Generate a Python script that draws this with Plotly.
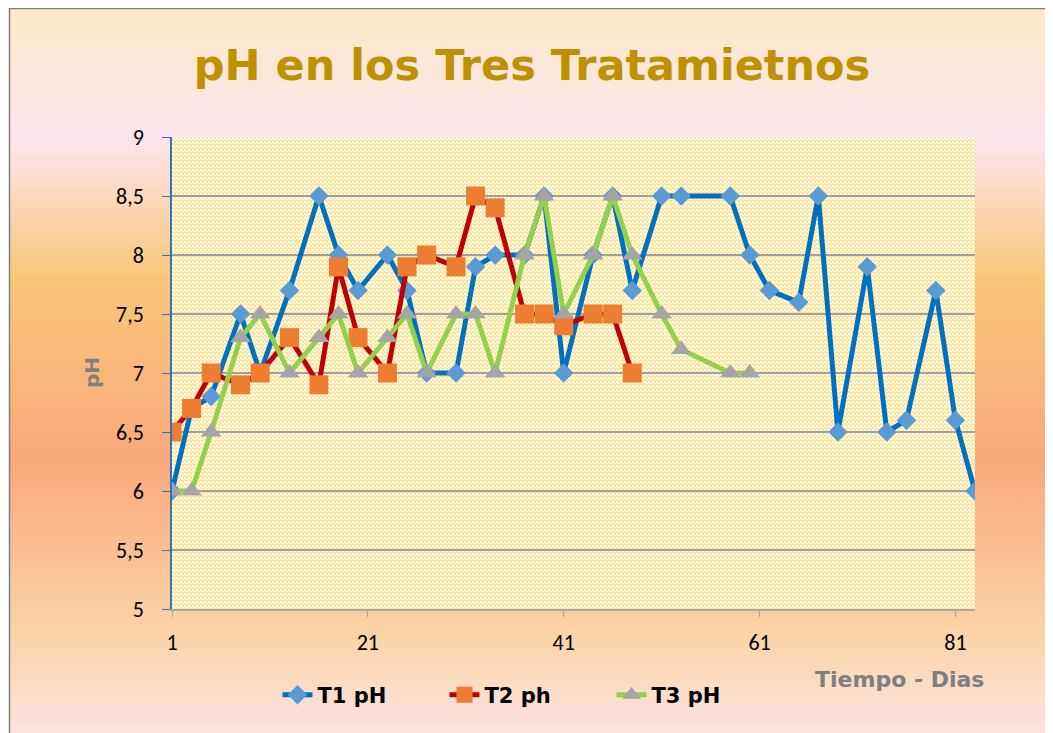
import base64
import plotly.graph_objects as go

# ---- data ----
t1_days = [1, 3, 5, 8, 10, 13, 16, 18, 20, 23, 25, 27, 30, 32, 34, 37, 39, 41, 44, 46, 48,
           51, 53, 58, 60, 62, 65, 67, 69, 72, 74, 76, 79, 81, 83]
t1_ph = [6.0, 6.7, 6.8, 7.5, 7.0, 7.7, 8.5, 8.0, 7.7, 8.0, 7.7, 7.0, 7.0, 7.9, 8.0, 8.0, 8.5, 7.0, 8.0, 8.5, 7.7,
         8.5, 8.5, 8.5, 8.0, 7.7, 7.6, 8.5, 6.5, 7.9, 6.5, 6.6, 7.7, 6.6, 6.0]

t2_days = [1, 3, 5, 8, 10, 13, 16, 18, 20, 23, 25, 27, 30, 32, 34, 37, 39, 41, 44, 46, 48]
t2_ph = [6.5, 6.7, 7.0, 6.9, 7.0, 7.3, 6.9, 7.9, 7.3, 7.0, 7.9, 8.0, 7.9, 8.5, 8.4, 7.5, 7.5, 7.4, 7.5, 7.5, 7.0]

t3_days = [1, 3, 5, 8, 10, 13, 16, 18, 20, 23, 25, 27, 30, 32, 34, 37, 39, 41, 44, 46, 48, 51, 53, 58, 60]
t3_ph = [6.0, 6.0, 6.5, 7.3, 7.5, 7.0, 7.3, 7.5, 7.0, 7.3, 7.5, 7.0, 7.5, 7.5, 7.0, 8.0, 8.5, 7.5, 8.0, 8.5, 8.0,
         7.5, 7.2, 7.0, 7.0]

series_names = ["T1 pH", "T2 ph", "T3 pH"]
x_ticks = [1, 21, 41, 61, 81]
y_ticks = [5, 5.5, 6, 6.5, 7, 7.5, 8, 8.5, 9]

title_text = "pH en los Tres Tratamietnos"
x_title = "Tiempo - Dias"
y_title = "pH"

# ---- geometry (page pixels; the page body adds an 8px offset) ----
OFF = 8
W, H = 1053, 733
L, R, T, B = 172 - OFF, 975 - OFF, 137 - OFF, 609 - OFF
PW, PH = R - L, B - T


def px_x(px):
    return (px - OFF - L) / PW


def px_y(py):
    return (B - (py - OFF)) / PH


def data_uri(svg):
    return "data:image/svg+xml;base64," + base64.b64encode(svg.encode()).decode()


bg_w, bg_h = W, H
bg_svg = (
    f"<svg xmlns='http://www.w3.org/2000/svg' width='{bg_w}' height='{bg_h}'>"
    "<defs><linearGradient id='g' x1='0' y1='0' x2='0' y2='1'>"
    "<stop offset='0' stop-color='#FBE9C8'/>"
    "<stop offset='0.18' stop-color='#FDE5EE'/>"
    "<stop offset='0.37' stop-color='#F9C679'/>"
    "<stop offset='0.62' stop-color='#F9A97D'/>"
    "<stop offset='0.86' stop-color='#FAD5A8'/>"
    "<stop offset='1' stop-color='#FDE4E6'/>"
    "</linearGradient></defs>"
    f"<rect width='{bg_w}' height='{bg_h}' fill='url(#g)'/></svg>"
)

pat_svg = (
    f"<svg xmlns='http://www.w3.org/2000/svg' width='{PW}' height='{PH}'>"
    "<defs><pattern id='p' width='4' height='4' patternUnits='userSpaceOnUse'>"
    "<rect width='4' height='4' fill='#FFE699'/>"
    "<rect width='2' height='2' fill='#FFFFFF'/>"
    "<rect x='2' y='2' width='2' height='1' fill='#FFFFFF'/>"
    "</pattern></defs>"
    f"<rect width='{PW}' height='{PH}' fill='url(#p)'/></svg>"
)

FONT_FUN = "Comic Sans MS, DejaVu Sans, sans-serif"
FONT_TICK = "Calibri, Lato, sans-serif"

fig = go.Figure()
fig.add_trace(go.Scatter(
    x=t1_days, y=t1_ph, name=series_names[0], mode="lines+markers",
    line=dict(color="#0070C0", width=5),
    marker=dict(symbol="diamond", size=15, color="#5B9BD5"),
))
fig.add_trace(go.Scatter(
    x=t2_days, y=t2_ph, name=series_names[1], mode="lines+markers",
    line=dict(color="#C00000", width=5),
    marker=dict(symbol="square", size=19, color="#ED7D31"),
))
fig.add_trace(go.Scatter(
    x=t3_days, y=t3_ph, name=series_names[2], mode="lines+markers",
    line=dict(color="#92D050", width=5),
    marker=dict(symbol="triangle-up", size=18, color="#A5A5A5"),
))

fig.update_layout(
    width=W, height=H,
    margin=dict(l=L, r=W - R, t=T, b=H - B, autoexpand=False),
    paper_bgcolor="white",
    plot_bgcolor="rgba(0,0,0,0)",
    separators=",.",
    showlegend=True,
    legend=dict(
        orientation="h", x=px_x(528), xanchor="center", y=px_y(695), yanchor="middle",
        font=dict(family=FONT_FUN, size=21, color="black", weight="bold"),
        bgcolor="rgba(0,0,0,0)", entrywidth=122, entrywidthmode="pixels",
    ),
    title=dict(
        text=title_text, x=px_x(532), xanchor="center", xref="paper",
        y=1 - (65 - OFF) / H, yanchor="middle", yref="container",
        font=dict(family=FONT_FUN, size=43, color="#BF9000", weight="bold"),
    ),
    xaxis=dict(
        range=[1, 83], tickvals=x_ticks, ticktext=[str(v) for v in x_ticks],
        showgrid=False, zeroline=False,
        showline=True, linecolor="#A6A6A6", linewidth=1.5,
        ticks="outside", ticklen=6, tickcolor="#A6A6A6", tickwidth=1,
        tickfont=dict(family=FONT_TICK, size=22, color="black"),
        ticklabelstandoff=7,
    ),
    yaxis=dict(
        range=[5, 9], tickvals=y_ticks,
        showgrid=True, gridcolor="#A0A0A0", gridwidth=1.5,
        zeroline=False,
        showline=True, linecolor="#2E75B6", linewidth=1.5,
        ticks="outside", ticklen=8, tickcolor="#2E75B6", tickwidth=1,
        tickfont=dict(family=FONT_TICK, size=22, color="black"),
        ticklabelstandoff=14,
    ),
    images=[
        dict(source=data_uri(bg_svg), xref="paper", yref="paper",
             x=px_x(9), y=px_y(8), sizex=bg_w / PW, sizey=bg_h / PH,
             xanchor="left", yanchor="top", sizing="stretch", layer="below"),
        dict(source=data_uri(pat_svg), xref="paper", yref="paper",
             x=0, y=1, sizex=1, sizey=1,
             xanchor="left", yanchor="top", sizing="stretch", layer="below"),
    ],
    shapes=[
        dict(type="line", xref="paper", yref="paper", x0=px_x(9), x1=px_x(W + 20),
             y0=px_y(8.5), y1=px_y(8.5), line=dict(color="#808080", width=1.5)),
        dict(type="line", xref="paper", yref="paper", x0=px_x(9.5), x1=px_x(9.5),
             y0=px_y(8), y1=px_y(H + 20), line=dict(color="#808080", width=1.5)),
    ],
    annotations=[
        dict(text=y_title, xref="paper", yref="paper", x=px_x(92), y=px_y(373),
             xanchor="center", yanchor="middle", textangle=-90, showarrow=False,
             font=dict(family=FONT_FUN, size=20, color="#7F7F7F", weight="bold")),
        dict(text=x_title, xref="paper", yref="paper", x=px_x(899), y=px_y(679),
             xanchor="center", yanchor="middle", showarrow=False,
             font=dict(family=FONT_FUN, size=22, color="#7F7F7F", weight="bold")),
    ],
)

fig.write_html("out.html")
